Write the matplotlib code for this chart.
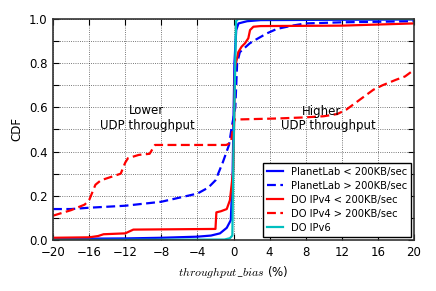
import matplotlib
matplotlib.use("Agg")
import matplotlib.pyplot as plt
import numpy as np

plt.rcParams['font.family'] = ['DejaVu Sans']
plt.rcParams['mathtext.fontset'] = 'cm'

# PlanetLab < 200KB/sec
pl_lo_x = [-20, -12, -8, -4, -2.5, -1.5, -0.75, -0.3, -0.1, 0.1, 0.3, 0.55, 1.5, 3, 20]
pl_lo_y = [0.005, 0.007, 0.01, 0.015, 0.02, 0.03, 0.055, 0.09, 0.3, 0.8, 0.95, 0.98, 0.99, 0.995, 0.998]

# PlanetLab > 200KB/sec
pl_hi_x = [-20, -18, -16, -12, -8, -4, -2.8, -2, -1.2, -0.5, -0.2, 0.2, 0.4, 0.7, 1.8, 2.4, 3.7, 4.8, 6.5, 8, 12, 20]
pl_hi_y = [0.14, 0.14, 0.146, 0.155, 0.173, 0.21, 0.237, 0.27, 0.35, 0.43, 0.51, 0.6, 0.8, 0.85, 0.89, 0.905, 0.935, 0.955, 0.97, 0.98, 0.985, 0.99]

# DO IPv4 < 200KB/sec
do4_lo_x = [-20, -16, -15, -14.4, -12, -11.1, -2, -1.9, -1.4, -0.75, -0.4, -0.02, 0.17, 0.53, 0.9, 1.27, 1.64, 1.83, 2.2, 3, 12, 20]
do4_lo_y = [0.01, 0.012, 0.018, 0.026, 0.03, 0.047, 0.05, 0.125, 0.13, 0.14, 0.18, 0.32, 0.78, 0.85, 0.875, 0.89, 0.913, 0.95, 0.965, 0.968, 0.97, 0.98]

# DO IPv4 > 200KB/sec
do4_hi_x = [-20, -18, -16.5, -16, -15.3, -14.7, -12.5, -12, -11.7, -10.5, -9.3, -8.7, -0.8, -0.3, 0.1, 5, 8, 10, 11.5, 12.5, 13.5, 14.5, 15.5, 16.5, 18, 19, 20]
do4_hi_y = [0.11, 0.135, 0.16, 0.18, 0.25, 0.27, 0.30, 0.35, 0.37, 0.385, 0.39, 0.43, 0.43, 0.44, 0.545, 0.55, 0.555, 0.56, 0.57, 0.59, 0.62, 0.65, 0.68, 0.70, 0.725, 0.74, 0.77]

# DO IPv6
do6_x = [-20, -1, -0.4, -0.13, 0.0, 0.28, 0.5, 20]
do6_y = [0.0, 0.002, 0.008, 0.02, 0.4, 0.99, 1.0, 1.0]

labels = ['PlanetLab < 200KB/sec', 'PlanetLab > 200KB/sec',
          'DO IPv4 < 200KB/sec', 'DO IPv4 > 200KB/sec', 'DO IPv6']

fig = plt.figure(figsize=(4.36, 2.91), dpi=100)
ax = fig.add_axes([0.1216, 0.1753, 0.828, 0.7594])

lw = 1.6
ax.plot(pl_lo_x, pl_lo_y, color='b', lw=lw, label=labels[0])
ax.plot(pl_hi_x, pl_hi_y, color='b', lw=lw, ls=(0, (4, 2)), label=labels[1])
ax.plot(do4_lo_x, do4_lo_y, color='r', lw=lw, label=labels[2])
ax.plot(do4_hi_x, do4_hi_y, color='r', lw=lw, ls=(0, (4, 2)), label=labels[3])
ax.plot(do6_x, do6_y, color=(0, 0.75, 0.75), lw=lw, label=labels[4])

ax.set_xlim(-20, 20)
ax.set_ylim(0, 1)
ax.set_xticks(np.arange(-20, 21, 4))
yt = np.round(np.arange(0, 1.01, 0.1), 1)
ax.set_yticks(yt)
ax.set_yticklabels([f'{v:.1f}' if round(v * 10) % 2 == 0 else '' for v in yt])
ax.tick_params(direction='in', top=True, right=True, labelsize=8.5, length=4, pad=4)
ax.grid(True, color='black', ls=':', lw=0.6, alpha=0.7)
for s in ax.spines.values():
    s.set_linewidth(1.2)
    s.set_color('#333333')

ax.set_ylabel('CDF', fontsize=8.5)
ax.set_xlabel(r'$throughput\_bias$ (%)', fontsize=8.5)

ax.text(-9.6, 0.55, 'Lower\nUDP throughput', ha='center', va='center', fontsize=8.5)
ax.text(9.8, 0.582, 'Higher', ha='center', va='center', fontsize=8.5)
ax.text(10.5, 0.516, 'UDP throughput', ha='center', va='center', fontsize=8.5)

leg = ax.legend(loc='lower right', fontsize=7.2, fancybox=False, framealpha=1,
                edgecolor='black', handlelength=1.6, labelspacing=0.4,
                borderaxespad=0.3)
leg.get_frame().set_linewidth(1.0)

fig.savefig('out.png', dpi=100)
